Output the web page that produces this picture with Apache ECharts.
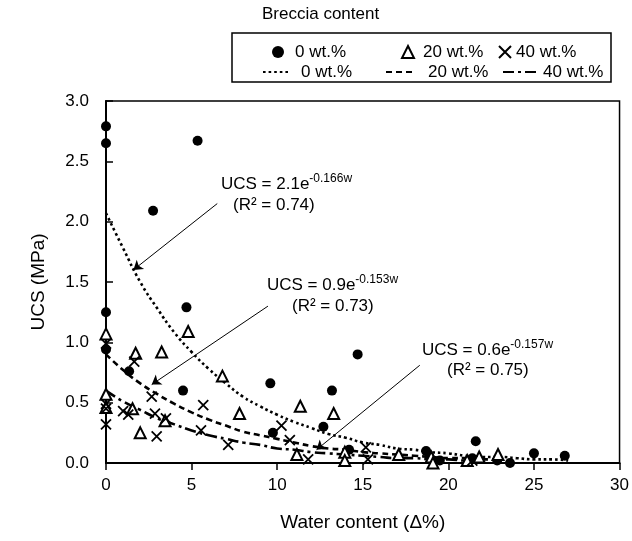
<!DOCTYPE html>
<html><head><meta charset="utf-8">
<script src="https://cdn.jsdelivr.net/npm/echarts@6/dist/echarts.min.js"></script>
<style>html,body{margin:0;padding:0;background:#fff}#c{width:632px;height:541px}</style>
</head><body><div id="c"></div>
<script>
// ---- data ----
const xTicks = [0, 5, 10, 15, 20, 25, 30];
const yTicks = [0.0, 0.5, 1.0, 1.5, 2.0, 2.5, 3.0];

const w0   = [0, 0, 2.75, 5.35, 0, 0, 4.7, 1.35, 4.5, 9.6, 9.75, 13.2, 14.7, 12.7, 14.2, 18.7, 18.9, 19.5, 21.6, 21.4, 22.85, 23.6, 25.0, 26.8];
const ucs0 = [2.79, 2.65, 2.09, 2.67, 1.25, 0.94, 1.29, 0.76, 0.60, 0.66, 0.25, 0.60, 0.90, 0.30, 0.11, 0.10, 0.05, 0.02, 0.18, 0.04, 0.02, 0.00, 0.08, 0.06];

const w20   = [0, 0, 0, 1.73, 3.25, 4.8, 6.8, 7.8, 1.55, 3.45, 2.0, 11.35, 13.3, 11.15, 13.95, 13.95, 17.1, 19.0, 19.1, 21.1, 21.8, 22.9];
const ucs20 = [1.07, 0.57, 0.46, 0.91, 0.92, 1.09, 0.72, 0.41, 0.45, 0.35, 0.25, 0.47, 0.41, 0.07, 0.09, 0.02, 0.07, 0.05, 0.00, 0.02, 0.05, 0.07];

const w40   = [0, 0, 0, 0, 1.0, 1.3, 1.65, 2.67, 2.86, 2.96, 3.5, 5.68, 5.55, 7.14, 10.25, 10.74, 11.81, 15.18, 15.3, 21.4];
const ucs40 = [0.99, 0.49, 0.45, 0.32, 0.43, 0.40, 0.84, 0.55, 0.41, 0.22, 0.37, 0.48, 0.27, 0.15, 0.31, 0.19, 0.03, 0.13, 0.03, 0.02];

// trend curves at whole-number water contents
const fitW  = [0,1,2,3,4,5,6,7,8,9,10,11,12,13,14,15,16,17,18,19,20,21,22,23,24,25,26,27];
const fit0  = [2.07,1.78,1.50,1.28,1.08,0.92,0.78,0.66,0.55,0.47,0.40,0.34,0.29,0.24,0.21,0.17,0.15,0.12,0.11,0.09,0.08,0.06,0.05,0.05,0.04,0.03,0.03,0.02];
const fit20 = [0.90,0.77,0.66,0.57,0.49,0.42,0.36,0.31,0.26,0.23,0.20,0.17,0.14,0.12,0.11,0.09,0.08,0.07,0.06,0.05,0.04,0.04,0.03,0.03];
const fit40 = [0.60,0.51,0.44,0.37,0.32,0.27,0.23,0.20,0.17,0.15,0.12,0.11,0.09,0.08,0.07,0.06,0.05,0.04,0.04,0.03,0.03,0.02,0.02];

const seriesNames = ['0 wt.%', '20 wt.%', '40 wt.%'];
const fitNames = ['0 wt.% fit', '20 wt.% fit', '40 wt.% fit'];
const equations = [
  ['UCS = 2.1e', '-0.166w', '(R\u00B2 = 0.74)'],
  ['UCS = 0.9e', '-0.153w', '(R\u00B2 = 0.73)'],
  ['UCS = 0.6e', '-0.157w', '(R\u00B2 = 0.75)']
];
const arrows = [
  [[6.5, 2.15], [1.6, 1.60]],
  [[9.46, 1.30], [2.67, 0.65]],
  [[18.33, 0.81], [12.3, 0.11]]
];

const FONT = '"Liberation Sans", Arial, sans-serif';
const pairs = (xs, ys) => xs.map((x, i) => [x, ys[i]]);
const fitPairs = (ys) => ys.map((y, i) => [fitW[i], y]);

const chart = echarts.init(document.getElementById('c'), null, {renderer: 'canvas'});

function legendItem(name, left, top, iw, ih, pad, hideSymbol) {
  const l = {
    data: [name], left: left, top: top, padding: 0, itemWidth: iw, itemHeight: ih,
    selectedMode: false, itemGap: 0,
    formatter: (n) => n.replace(' fit', ''),
    textStyle: {fontFamily: FONT, fontSize: 17, color: '#000', lineHeight: 20, padding: [0, 0, 0, pad]}
  };
  if (hideSymbol) {
    l.itemStyle = {color: 'rgba(0,0,0,0)', borderColor: 'rgba(0,0,0,0)', borderWidth: 0, opacity: 0};
  }
  return l;
}

const crossPath = 'path://M0,0L10,10M10,0L0,10';

const option = {
  animation: false,
  backgroundColor: '#fff',
  grid: {left: 106, right: 12, top: 101, bottom: 78, show: true, borderColor: '#000', borderWidth: 1.5, backgroundColor: 'transparent'},
  xAxis: {
    type: 'value', min: 0, max: 30, interval: 5,
    name: 'Water content (\u0394%)', nameLocation: 'middle', nameGap: 50,
    nameTextStyle: {fontFamily: FONT, fontSize: 19, color: '#000'},
    axisLine: {show: true, lineStyle: {color: '#000', width: 2}},
    axisTick: {show: true, inside: false, length: 7, lineStyle: {color: '#000', width: 1.5}},
    axisLabel: {fontFamily: FONT, fontSize: 17, color: '#000', margin: 14,
      formatter: (v) => xTicks.includes(v) ? String(v) : ''},
    splitLine: {show: false}
  },
  yAxis: {
    type: 'value', min: 0, max: 3, interval: 0.5,
    name: 'UCS (MPa)', nameLocation: 'middle', nameGap: 58, nameRotate: 90,
    nameTextStyle: {fontFamily: FONT, fontSize: 19, color: '#000'},
    axisLine: {show: true, lineStyle: {color: '#000', width: 2}},
    axisTick: {show: true, inside: true, length: 7, lineStyle: {color: '#000', width: 1.5}},
    axisLabel: {fontFamily: FONT, fontSize: 17, color: '#000', margin: 17,
      formatter: (v) => yTicks.includes(v) ? v.toFixed(1) : ''},
    splitLine: {show: false}
  },
  legend: [
    legendItem(seriesNames[0], 272, 42, 12, 12, 6, false),
    legendItem(seriesNames[1], 401, 42, 12, 12, 4, false),
    legendItem(seriesNames[2], 498, 42, 12, 12, 0, false),
    legendItem(fitNames[0], 262, 62, 25, 14, 8, true),
    legendItem(fitNames[1], 385, 62, 27, 14, 10, true),
    legendItem(fitNames[2], 502, 62, 35, 14, 0, true)
  ],
  series: [
    {
      name: fitNames[0], type: 'line', data: fitPairs(fit0), smooth: true, symbol: 'none',
      itemStyle: {color: '#000'},
      lineStyle: {color: '#000', width: 2.6, type: [2.6, 3]}, z: 2, silent: true,
      markLine: {
        silent: true, symbol: ['none', 'arrow'], symbolSize: 9,
        label: {show: false},
        lineStyle: {color: '#000', width: 1, type: 'solid'},
        data: arrows.map(a => [{coord: a[0]}, {coord: a[1]}])
      }
    },
    {
      name: fitNames[1], type: 'line', data: fitPairs(fit20), smooth: true, symbol: 'none',
      itemStyle: {color: '#000'},
      lineStyle: {color: '#000', width: 2.6, type: [6, 4]}, z: 2, silent: true
    },
    {
      name: fitNames[2], type: 'line', data: fitPairs(fit40), smooth: true, symbol: 'none',
      itemStyle: {color: '#000'},
      lineStyle: {color: '#000', width: 2.6, type: [11, 4, 3, 4]}, z: 2, silent: true
    },
    {
      name: seriesNames[0], type: 'scatter', data: pairs(w0, ucs0), symbol: 'circle', symbolSize: 10,
      itemStyle: {color: '#000', opacity: 1}, z: 3
    },
    {
      name: seriesNames[1], type: 'scatter', data: pairs(w20, ucs20), symbol: 'triangle', symbolSize: 11,
      itemStyle: {color: '#fff', borderColor: '#000', borderWidth: 2, opacity: 1}, z: 4
    },
    {
      name: seriesNames[2], type: 'scatter', data: pairs(w40, ucs40), symbol: crossPath, symbolSize: 10,
      itemStyle: {color: 'rgba(0,0,0,0)', borderColor: '#000', borderWidth: 1.8, opacity: 1}, z: 5
    }
  ],
  graphic: [
    {type: 'text', left: 262, top: 6, style: {text: 'Breccia content', font: '17px ' + FONT, fill: '#000'}},
    {type: 'rect', shape: {x: 232, y: 33, width: 379, height: 49}, style: {fill: 'none', stroke: '#000', lineWidth: 1.5}}
  ]
};

const textPos = [
  [[221, 184], [233, 205]],
  [[267, 285], [292, 306]],
  [[422, 350], [447, 370]]
];
equations.forEach((eq, i) => {
  option.graphic.push({
    type: 'text', x: textPos[i][0][0], y: textPos[i][0][1],
    style: {
      text: '{m|' + eq[0] + '}{s|' + eq[1] + '}', verticalAlign: 'middle',
      rich: {
        m: {fontFamily: FONT, fontSize: 17, fill: '#000', lineHeight: 22},
        s: {fontFamily: FONT, fontSize: 12, fill: '#000', verticalAlign: 'top', lineHeight: 14}
      }
    }
  });
  option.graphic.push({
    type: 'text', x: textPos[i][1][0], y: textPos[i][1][1],
    style: {text: eq[2], font: '17px ' + FONT, fill: '#000', verticalAlign: 'middle'}
  });
});

chart.setOption(option);
</script>
</body></html>
